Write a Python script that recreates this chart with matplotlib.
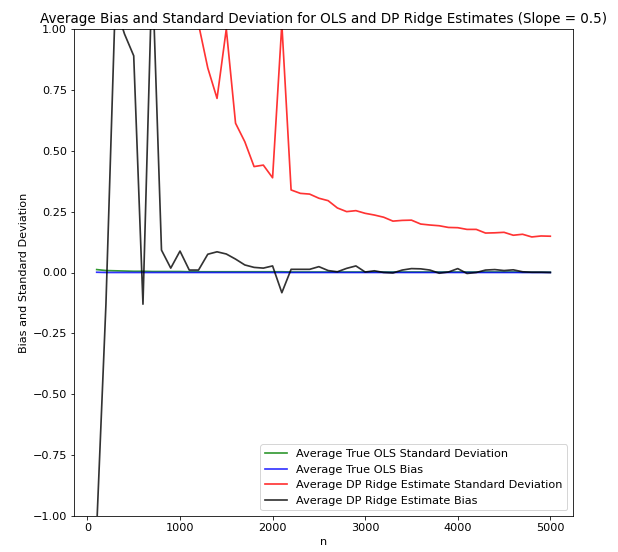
import matplotlib
matplotlib.use("Agg")
import matplotlib.pyplot as plt

n = list(range(100, 5100, 100))

# average true OLS standard deviation (tiny, shrinking with n)
ols_sd = [0.012, 0.008, 0.007, 0.006, 0.005, 0.005, 0.004, 0.004, 0.004, 0.004,
          0.003, 0.003, 0.003, 0.003, 0.003, 0.003, 0.003, 0.003, 0.003, 0.003,
          0.003, 0.002, 0.002, 0.002, 0.002, 0.002, 0.002, 0.002, 0.002, 0.002,
          0.002, 0.002, 0.002, 0.002, 0.002, 0.002, 0.002, 0.002, 0.002, 0.002,
          0.002, 0.002, 0.002, 0.002, 0.002, 0.002, 0.001, 0.001, 0.001, 0.001]

# average true OLS bias (~0)
ols_bias = [0.001, 0.0, 0.0, 0.0, 0.0, 0.0, 0.0, 0.0, 0.0, 0.0,
            0.0, 0.0, 0.0, 0.0, 0.0, 0.0, 0.0, 0.0, 0.0, 0.0,
            0.0, 0.0, 0.0, 0.0, 0.0, 0.0, 0.0, 0.0, 0.0, 0.0,
            0.0, 0.0, 0.0, 0.0, 0.0, 0.0, 0.0, 0.0, 0.0, 0.0,
            0.0, 0.0, 0.0, 0.0, 0.0, 0.0, 0.0, 0.0, 0.0, 0.0]

# DP ridge standard deviation (first values run off the top of the plot)
dp_sd = [9.5, 6.2, 4.8, 3.9, 3.1, 2.6, 2.3, 1.9, 1.7, 1.5,
         1.3, 1.02, 0.84, 0.715, 1.0, 0.613, 0.537, 0.435, 0.441, 0.389,
         1.02, 0.339, 0.325, 0.322, 0.305, 0.295, 0.265, 0.25, 0.254, 0.243,
         0.236, 0.227, 0.211, 0.214, 0.215, 0.199, 0.195, 0.192, 0.185, 0.184,
         0.177, 0.177, 0.162, 0.163, 0.165, 0.153, 0.157, 0.146, 0.15, 0.149]

# DP ridge bias
dp_bias = [-1.05, -0.13, 1.1, 0.98, 0.89, -0.13, 1.25, 0.092, 0.018, 0.088,
           0.01, 0.01, 0.075, 0.085, 0.076, 0.055, 0.031, 0.021, 0.018, 0.027,
           -0.083, 0.013, 0.013, 0.013, 0.024, 0.008, 0.003, 0.017, 0.027, 0.002,
           0.007, 0.0, -0.002, 0.01, 0.016, 0.015, 0.01, -0.003, 0.002, 0.016,
           -0.004, 0.0, 0.01, 0.012, 0.008, 0.011, 0.003, 0.001, 0.001, 0.0]

plt.rcParams["font.size"] = 11.3
plt.rcParams["axes.titlesize"] = 13.5
plt.rcParams["lines.linewidth"] = 1.7

fig = plt.figure(figsize=(618 / 72, 552 / 72), dpi=72)
ax = fig.add_axes([74 / 618, 36 / 552, 499 / 618, 487 / 552])

ax.plot(n, ols_sd, color="green", alpha=0.8, label="Average True OLS Standard Deviation")
ax.plot(n, ols_bias, color="blue", alpha=0.8, label="Average True OLS Bias")
ax.plot(n, dp_sd, color="red", alpha=0.8, label="Average DP Ridge Estimate Standard Deviation")
ax.plot(n, dp_bias, color="black", alpha=0.8, label="Average DP Ridge Estimate Bias")

ax.set_ylim(-1, 1)
ax.set_title("Average Bias and Standard Deviation for OLS and DP Ridge Estimates (Slope = 0.5)")
ax.set_xlabel("n")
ax.set_ylabel("Bias and Standard Deviation")
ax.legend(loc="lower right")

fig.savefig("out.png", dpi=72)
